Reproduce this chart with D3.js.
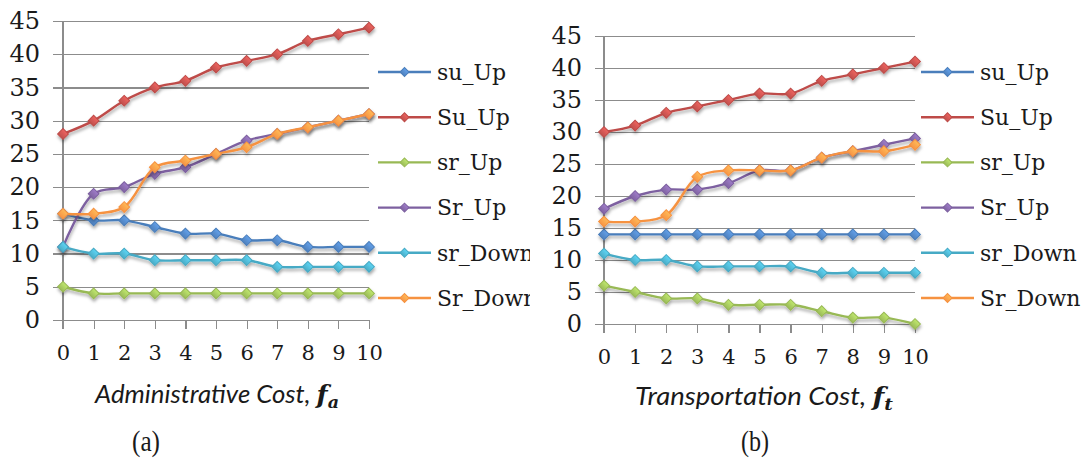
<!DOCTYPE html>
<html>
<head>
<meta charset="utf-8">
<script src="https://cdn.jsdelivr.net/npm/d3@7"></script>
<style>
  html, body { margin: 0; padding: 0; background: #fff; }
  svg { display: block; }
</style>
</head>
<body>
<svg id="chart" width="1091" height="460" viewBox="0 0 1091 460"></svg>
<script>
'use strict';

/* global d3 */

// categories and tick labels
var costs = [0, 1, 2, 3, 4, 5, 6, 7, 8, 9, 10];
var yTicks = [0, 5, 10, 15, 20, 25, 30, 35, 40, 45];
var seriesNames = ['su_Up', 'Su_Up', 'sr_Up', 'Sr_Up', 'sr_Down', 'Sr_Down'];

// (a) administrative cost
var admin_su_Up = [16, 15, 15, 14, 13, 13, 12, 12, 11, 11, 11];
var admin_Su_Up = [28, 30, 33, 35, 36, 38, 39, 40, 42, 43, 44];
var admin_sr_Up = [5, 4, 4, 4, 4, 4, 4, 4, 4, 4, 4];
var admin_Sr_Up = [11, 19, 20, 22, 23, 25, 27, 28, 29, 30, 31];
var admin_sr_Down = [11, 10, 10, 9, 9, 9, 9, 8, 8, 8, 8];
var admin_Sr_Down = [16, 16, 17, 23, 24, 25, 26, 28, 29, 30, 31];

// (b) transportation cost
var trans_su_Up = [14, 14, 14, 14, 14, 14, 14, 14, 14, 14, 14];
var trans_Su_Up = [30, 31, 33, 34, 35, 36, 36, 38, 39, 40, 41];
var trans_sr_Up = [6, 5, 4, 4, 3, 3, 3, 2, 1, 1, 0];
var trans_Sr_Up = [18, 20, 21, 21, 22, 24, 24, 26, 27, 28, 29];
var trans_sr_Down = [11, 10, 10, 9, 9, 9, 9, 8, 8, 8, 8];
var trans_Sr_Down = [16, 16, 17, 23, 24, 24, 24, 26, 27, 27, 28];

var lineColors = ['#4A7EBB', '#BE4B48', '#98B954', '#7D60A0', '#46AAC5', '#F69240'];
var markerColors = ['#4F81BD', '#C0504D', '#9BBB59', '#8064A2', '#4BACC6', '#F79646'];

(function () {
  var svg = d3.select('#chart');

  var defs = svg.append('defs');
  var shadow = defs.append('filter').attr('id', 'shadow')
    .attr('x', '-20%').attr('y', '-20%').attr('width', '140%').attr('height', '160%');
  shadow.append('feDropShadow').attr('dx', 0.5).attr('dy', 2.5)
    .attr('stdDeviation', 1.6).attr('flood-color', '#000').attr('flood-opacity', 0.35);

  markerColors.forEach(function (c, i) {
    var grad = defs.append('linearGradient').attr('id', 'mk' + i)
      .attr('x1', 0).attr('y1', 0).attr('x2', 0).attr('y2', 1);
    grad.append('stop').attr('offset', '0%').attr('stop-color', d3.color(c).brighter(0.6));
    grad.append('stop').attr('offset', '100%').attr('stop-color', c);
  });

  var panels = [
    {
      id: 'a',
      series: [admin_su_Up, admin_Su_Up, admin_sr_Up, admin_Sr_Up, admin_sr_Down, admin_Sr_Down],
      left: 63, right: 369, top: 21, bottom: 320, gridLeft: 53,
      legendX: 378, legendClip: 530,
      title: 'Administrative Cost, ', sub: 'a', titleX: 217, titleY: 403, titleLen: 244,
      tag: '(a)', tagX: 146, tagY: 440
    },
    {
      id: 'b',
      series: [trans_su_Up, trans_Su_Up, trans_sr_Up, trans_Sr_Up, trans_sr_Down, trans_Sr_Down],
      left: 604, right: 915, top: 36, bottom: 324, gridLeft: 595,
      legendX: 921, legendClip: 1091,
      title: 'Transportation Cost, ', sub: 't', titleX: 764, titleY: 405, titleLen: 258,
      tag: '(b)', tagX: 755, tagY: 440
    }
  ];

  panels.forEach(function (p) {
    var g = svg.append('g');

    var x = d3.scalePoint().domain(costs).range([p.left, p.right]);
    var y = d3.scaleLinear().domain([0, 45]).range([p.bottom, p.top]);

    // y gridlines and labels
    var yAxis = d3.axisLeft(y).tickValues(yTicks)
      .tickSize(p.right - p.gridLeft).tickPadding(13);
    var yG = g.append('g').attr('transform', 'translate(' + p.right + ',0)').call(yAxis);
    yG.select('.domain').remove();
    yG.selectAll('line').attr('stroke', '#8c8c8c').attr('stroke-width', 1.2)
      .attr('shape-rendering', 'crispEdges');
    yG.selectAll('text').attr('font-family', 'DejaVu Serif').attr('font-size', 24)
      .attr('fill', '#1a1a1a');

    // x ticks and labels
    var xAxis = d3.axisBottom(x).tickSize(9).tickSizeOuter(0).tickPadding(16);
    var xG = g.append('g').attr('transform', 'translate(0,' + p.bottom + ')').call(xAxis);
    xG.select('.domain').attr('stroke', '#8c8c8c').attr('stroke-width', 1.2);
    xG.selectAll('line').attr('stroke', '#8c8c8c').attr('stroke-width', 1.2)
      .attr('shape-rendering', 'crispEdges');
    xG.selectAll('text').attr('font-family', 'DejaVu Serif').attr('font-size', 21)
      .attr('fill', '#1a1a1a');

    // vertical axis line
    g.append('line')
      .attr('x1', p.left).attr('x2', p.left)
      .attr('y1', p.top).attr('y2', p.bottom + 9)
      .attr('stroke', '#8c8c8c').attr('stroke-width', 1.2)
      .attr('shape-rendering', 'crispEdges');

    var line = d3.line()
      .x(function (d, i) { return x(costs[i]); })
      .y(function (d) { return y(d); })
      .curve(d3.curveCatmullRom.alpha(0.5));

    var diamond = d3.symbol().type(d3.symbolSquare).size(58);

    p.series.forEach(function (vals, si) {
      var sg = g.append('g').attr('filter', 'url(#shadow)');
      sg.append('path').datum(vals).attr('d', line)
        .attr('fill', 'none').attr('stroke', lineColors[si]).attr('stroke-width', 2.4)
        .attr('stroke-linejoin', 'round').attr('stroke-linecap', 'round');
      sg.selectAll('path.mk').data(vals).enter().append('path')
        .attr('class', 'mk')
        .attr('d', diamond)
        .attr('transform', function (d, i) {
          return 'translate(' + x(costs[i]) + ',' + y(d) + ') rotate(45)';
        })
        .attr('fill', 'url(#mk' + si + ')')
        .attr('stroke', lineColors[si]).attr('stroke-width', 1);
    });

    // legend
    var clipId = 'clip-' + p.id;
    defs.append('clipPath').attr('id', clipId).append('rect')
      .attr('x', p.legendX - 5).attr('y', 0)
      .attr('width', p.legendClip - p.legendX + 5).attr('height', 340);
    var lg = g.append('g').attr('clip-path', 'url(#' + clipId + ')');
    var legendY = d3.scalePoint().domain(seriesNames).range([72, 298]);
    var smallDiamond = d3.symbol().type(d3.symbolSquare).size(40);
    seriesNames.forEach(function (name, si) {
      var ly = legendY(name);
      lg.append('line')
        .attr('x1', p.legendX).attr('x2', p.legendX + 53)
        .attr('y1', ly).attr('y2', ly)
        .attr('stroke', lineColors[si]).attr('stroke-width', 2.4);
      lg.append('path').attr('d', smallDiamond)
        .attr('transform', 'translate(' + (p.legendX + 26.5) + ',' + ly + ') rotate(45)')
        .attr('fill', 'url(#mk' + si + ')').attr('stroke', lineColors[si]).attr('stroke-width', 1);
      lg.append('text')
        .attr('x', p.legendX + 59).attr('y', ly)
        .attr('dy', '0.35em')
        .attr('font-family', 'DejaVu Serif').attr('font-size', 22)
        .attr('fill', '#1a1a1a')
        .text(name);
    });

    // axis title
    var t = g.append('text')
      .attr('x', p.titleX).attr('y', p.titleY)
      .attr('text-anchor', 'middle')
      .attr('font-family', 'Lato').attr('font-style', 'italic').attr('font-size', 25)
      .attr('fill', '#1a1a1a')
      .attr('textLength', p.titleLen).attr('lengthAdjust', 'spacingAndGlyphs');
    t.append('tspan').text(p.title);
    t.append('tspan').attr('font-family', 'DejaVu Serif').attr('font-weight', 'bold').text('f');
    t.append('tspan').attr('font-family', 'DejaVu Serif').attr('font-weight', 'bold')
      .attr('font-size', 17).attr('dy', 5).text(p.sub);

    // panel tag
    g.append('text')
      .attr('x', p.tagX).attr('y', p.tagY)
      .attr('text-anchor', 'middle').attr('dy', '0.35em')
      .attr('font-family', 'Liberation Serif').attr('font-size', 30)
      .attr('fill', '#1a1a1a')
      .attr('textLength', 28).attr('lengthAdjust', 'spacingAndGlyphs')
      .text(p.tag);
  });
})();
</script>
</body>
</html>
